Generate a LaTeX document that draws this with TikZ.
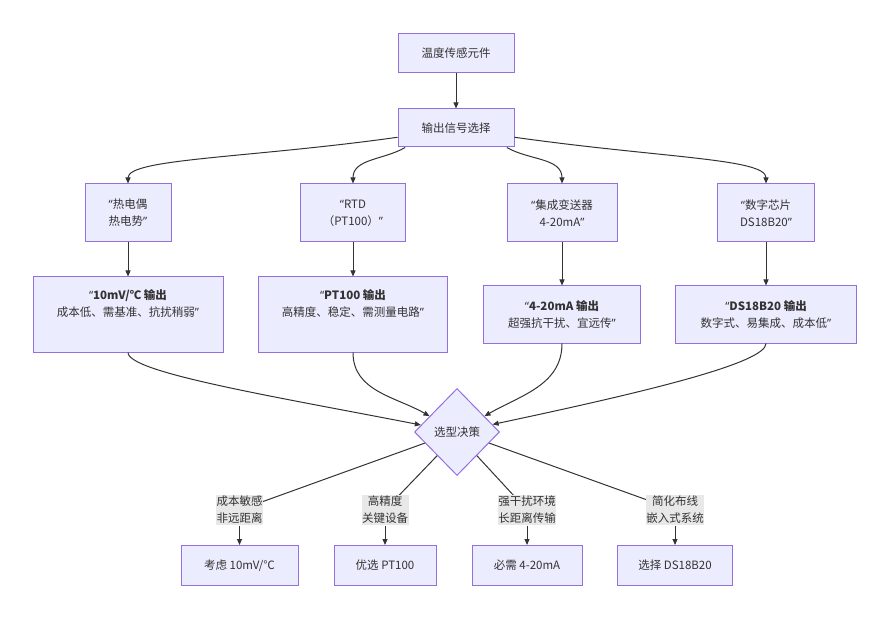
\documentclass[tikz,border=0pt]{standalone}
\usepackage{fontspec}
\setmainfont{Noto Sans CJK SC}
\newfontfamily\quotefont{Noto Sans}
\newcommand\openq{{\quotefont “}}
\newcommand\closeq{{\quotefont ”}}
\usetikzlibrary{shapes.geometric,arrows.meta}
\definecolor{boxfill}{HTML}{ECECFF}
\definecolor{boxline}{HTML}{9370DB}
\definecolor{edgeline}{HTML}{333333}
\definecolor{labelfill}{HTML}{E8E8E8}
\tikzset{>={Triangle[length=6pt,width=5pt]}}

\begin{document}
\begin{tikzpicture}[x=1pt,y=1pt,
  every node/.style={font=\fontsize{11.5}{17}\selectfont, text=edgeline, align=center},
  box/.style={draw=boxline, fill=boxfill, line width=1pt, inner sep=0pt},
  lab/.style={fill=labelfill, inner xsep=0.5pt, inner ysep=1.5pt},
  link/.style={draw=edgeline, line width=1pt}]
\useasboundingbox (0,0) rectangle (890,619);
\node[box, minimum width=116pt, minimum height=39pt] (T) at (456,565.5) {温度传感元件};
\node[box, minimum width=116pt, minimum height=38pt] (S) at (456,491) {输出信号选择};
\node[box, minimum width=86pt, minimum height=58pt] (P1) at (128,406) {\openq 热电偶\\热电势\closeq};
\node[box, minimum width=105pt, minimum height=58pt] (P2) at (353,406) {\openq RTD\\（PT100）\closeq};
\node[box, minimum width=110pt, minimum height=58pt] (P3) at (562,406) {\openq 集成变送器\\4-20mA\closeq};
\node[box, minimum width=97pt, minimum height=58pt] (P4) at (766,406) {\openq 数字芯片\\DS18B20\closeq};
\node[box, minimum width=190pt, minimum height=75pt] (Q1) at (128,304.5) {\textbf{\openq 10mV/℃ 输出}\\成本低、需基准、抗扰稍弱\closeq\\\strut};
\node[box, minimum width=189pt, minimum height=75pt] (Q2) at (353,304.5) {\textbf{\openq PT100 输出}\\高精度、稳定、需测量电路\closeq\\\strut};
\node[box, minimum width=157pt, minimum height=57pt] (Q3) at (562,304.5) {\textbf{\openq 4-20mA 输出}\\超强抗干扰、宜远传\closeq};
\node[box, minimum width=181pt, minimum height=57pt] (Q4) at (766,304.5) {\textbf{\openq DS18B20 输出}\\数字式、易集成、成本低\closeq};
\node[box, diamond, minimum width=85pt, minimum height=87pt] (J) at (457,187) {选型决策};
\node[box, minimum width=117pt, minimum height=40pt] (E1) at (239.5,53.5) {考虑 10mV/℃};
\node[box, minimum width=102pt, minimum height=40pt] (E2) at (385,53.5) {优选 PT100};
\node[box, minimum width=110pt, minimum height=40pt] (E3) at (527,53.5) {必需 4-20mA};
\node[box, minimum width=115pt, minimum height=40pt] (E4) at (675,53.5) {选择 DS18B20};
\draw[link,->] (T) -- (S);
\draw[link,->] (S.189) to[out=188,in=90,out distance=150pt,in distance=25pt] (P1.north);
\draw[link,->] (S.201) to[out=210,in=90] (P2.north);
\draw[link,->] (S.339) to[out=330,in=90] (P3.north);
\draw[link,->] (S.351) to[out=352,in=90,out distance=150pt,in distance=25pt] (P4.north);
\foreach \i in {1,...,4}
  \draw[link,->] (P\i) -- (Q\i);
\draw[link,->] (Q1.south) to[out=-90,in=169,out distance=20pt,in distance=150pt] (J.169);
\draw[link,->] (Q2.south) to[out=-90,in=150] (J.150);
\draw[link,->] (Q3.south) to[out=-90,in=30] (J.30);
\draw[link,->] (Q4.south) to[out=-90,in=12,out distance=20pt,in distance=150pt] (J.12);
\draw[link] (J.199) -- (239.5,109);
\draw[link] (J.230) -- (385,109);
\draw[link] (J.310) -- (527,109);
\draw[link] (J.341) -- (675,109);
\node[lab] (L1) at (239.5,109) {成本敏感\\非远距离};
\node[lab] (L2) at (385,109) {高精度\\关键设备};
\node[lab] (L3) at (527,109) {强干扰环境\\长距离传输};
\node[lab] (L4) at (675,109) {简化布线\\嵌入式系统};
\foreach \i in {1,...,4}
  \draw[link,->] (L\i) -- (E\i);
\end{tikzpicture}
\end{document}
